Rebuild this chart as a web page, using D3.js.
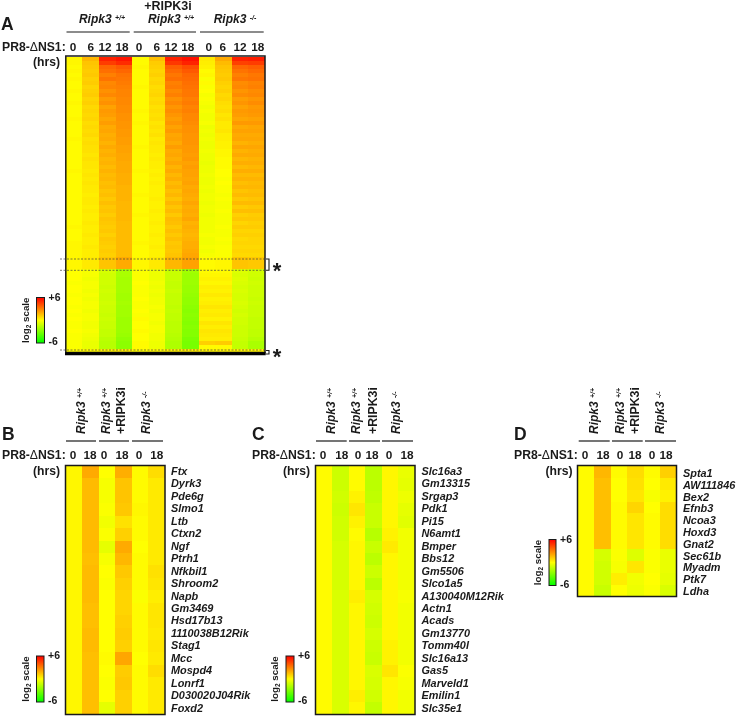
<!DOCTYPE html>
<html><head><meta charset="utf-8">
<script src="https://d3js.org/d3.v7.min.js"></script>
<style>html,body{margin:0;padding:0;background:#fff}svg{display:block;filter:blur(.45px)}
text{font-family:"Liberation Sans",Arial,sans-serif;font-weight:bold;fill:#1a1a1a}</style></head><body>
<svg id="c" width="737" height="716"></svg>
<script>
const groupLabels=["Ripk3","Ripk3","Ripk3"];
const groupSups=["+/+","+/+","-/-"];
const hoursA=["0","6","12","18","0","6","12","18","0","6","12","18"];
const hoursB=["0","18","0","18","0","18"];
const legendTicks=[-6,6];
const genesB=["Ftx","Dyrk3","Pde6g","Slmo1","Ltb","Ctxn2","Ngf","Ptrh1","Nfkbil1","Shroom2","Napb","Gm3469","Hsd17b13","1110038B12Rik","Stag1","Mcc","Mospd4","Lonrf1","D030020J04Rik","Foxd2"];
const genesC=["Slc16a3","Gm13315","Srgap3","Pdk1","Pi15","N6amt1","Bmper","Bbs12","Gm5506","Slco1a5","A130040M12Rik","Actn1","Acads","Gm13770","Tomm40l","Slc16a13","Gas5","Marveld1","Emilin1","Slc35e1"];
const genesD=["Spta1","AW111846","Bex2","Efnb3","Ncoa3","Hoxd3","Gnat2","Sec61b","Myadm","Ptk7","Ldha"];

// Panel A: 74 binned rows per column, log2 values
const a01=[.2,.2,.1,.2,.1,.2,.1,.1,.2,.1, .1,.2,.1,.1,.1,.2,.1,.1,.1,.1, .2,.1,.1,.1,.1,.1,.1,.1,.2,.1, .1,.1,.1,.1,.1,.1,.1,.1,.1,.1, .1,.1,.2,.1,.1,.1,.2,.2,.2,.2, .2,.2,.2,
 .0,.0,.0,-.1,.0,.0,-.1,.0,.0,-.1, .0,-.1,.0,-.1,-.1,.0,-.1,-.1,-.1,-.1,.1];
const a02=[1.7,1.4,1.3,1.2,1.3,1.1,1.2,1.0,1.1,1.2, 1.0,1.1,.9,1.0,.9,1.0,.8,.9,.8,.9, .7,.8,.7,.7,.6,.7,.6,.6,.5,.6, .5,.6,.5,.5,.4,.5,.5,.4,.5,.4, .4,.5,.4,.4,.5,.4,.4,.5,.4,.4, .5,.5,.5,
 -.2,-.2,-.3,-.2,-.2,-.3,-.2,-.3,-.2,-.2, -.3,-.2,-.2,-.3,-.3,-.2,-.3,-.4,-.5,-.5,.2];
const a03=[5.2,4.6,3.6,3.4,3.0,3.3,2.8,2.9,2.6,2.8, 2.4,2.6,2.2,2.4,2.3,2.1,2.3,2.0,2.1,1.9, 2.0,1.8,2.0,1.8,1.9,1.7,1.8,1.6,1.8,1.6, 1.7,1.5,1.6,1.4,1.5,1.3,1.5,1.3,1.4,1.2, 1.4,1.3,1.2,1.3,1.1,1.3,1.2,1.1,1.2,1.1, 1.4,1.4,1.4,
 -1.0,-1.1,-1.1,-1.1,-1.2,-1.1,-1.2,-1.2,-1.1,-1.2, -1.2,-1.3,-1.2,-1.3,-1.3,-1.4,-1.4,-1.6,-1.7,-1.7,.4];
const a04=[5.5,5.0,3.9,3.6,3.3,3.2,3.1,3.0,2.9,2.9, 2.8,2.8,2.7,2.7,2.6,2.6,2.5,2.5,2.4,2.4, 2.3,2.3,2.2,2.2,2.1,2.1,2.0,2.0,2.0,1.9, 1.9,1.9,1.8,1.8,1.8,1.8,1.7,1.7,1.7,1.7, 1.7,1.6,1.6,1.6,1.6,1.6,1.6,1.6,1.6,1.6, 2.0,2.0,2.0,
 -2.0,-2.0,-2.1,-2.1,-2.1,-2.1,-2.2,-2.2,-2.1,-2.2, -2.2,-2.2,-2.3,-2.3,-2.3,-2.3,-2.4,-2.6,-2.7,-2.7,.5];
const a05=[.1,.1,.2,.1,.1,.1,.1,.2,.1,.1, .1,.1,.1,.2,.1,.1,.2,.1,.1,.1, .1,.1,.2,.1,.1,.1,.1,.1,.2,.1, .1,.1,.1,.1,.2,.1,.1,.1,.1,.2, .1,.1,.1,.1,.1,.1,.2,.1,.1,.1, .2,.2,.2,
 -.1,-.1,-.1,.0,-.1,-.1,-.1,.0,-.1,-.1, .0,-.1,.1,.0,.0,.1,.0,.0,.1,.1,.1];
const a06=[1.5,1.2,1.1,1.0,1.1,.9,1.0,.8,.9,1.0, .8,.9,.7,.8,.7,.8,.6,.7,.6,.7, .5,.6,.5,.5,.4,.5,.4,.4,.3,.4, .3,.4,.3,.3,.3,.4,.3,.3,.4,.3, .3,.4,.3,.3,.4,.3,.3,.4,.3,.3, .5,.5,.5,
 -.4,-.4,-.4,-.3,-.4,-.3,-.4,-.3,-.3,-.2, -.3,-.2,-.2,-.3,-.2,-.2,-.3,-.3,-.4,-.4,.2];
const a07=[5.2,4.7,3.8,3.5,3.2,3.4,3.0,3.1,2.8,3.0, 2.6,2.8,2.5,2.7,2.5,2.3,2.5,2.2,2.4,2.1, 2.2,2.0,2.3,2.0,2.1,1.9,2.1,1.8,2.0,1.7, 1.9,1.6,1.8,1.5,1.7,1.4,1.7,1.4,1.6,1.3, 1.6,1.5,1.3,1.5,1.3,1.5,1.3,1.4,1.3,1.4, 1.7,1.7,1.7,
 -1.3,-1.3,-1.3,-1.4,-1.4,-1.3,-1.4,-1.4,-1.4,-1.5, -1.4,-1.5,-1.5,-1.6,-1.6,-1.6,-1.7,-1.8,-1.9,-1.9,.4];
const a08=[5.6,5.2,4.2,3.9,3.6,3.5,3.4,3.3,3.2,3.2, 3.0,3.1,2.9,3.0,2.8,2.8,2.7,2.6,2.6,2.5, 2.5,2.5,2.4,2.4,2.3,2.4,2.2,2.3,2.2,2.2, 2.1,2.2,2.0,2.1,2.0,1.9,2.1,1.9,2.0,1.9, 2.1,1.8,1.9,1.8,1.7,1.8,1.9,1.9,2.0,2.1, 2.2,2.2,2.2,
 -2.2,-2.3,-2.3,-2.3,-2.4,-2.4,-2.5,-2.6,-2.6,-2.7, -2.8,-2.7,-2.8,-2.9,-2.8,-2.9,-2.9,-3.1,-3.2,-3.2,.5];
const a09=[.5,.4,.3,.1,.2,-.1,.1,-.1,.0,-.2, -.1,-.2,-.3,-.2,-.3,-.3,-.2,-.4,-.3,-.4, -.3,-.4,-.4,-.3,-.4,-.4,-.5,-.4,-.4,-.3, -.4,-.4,-.3,-.4,-.3,-.3,-.4,-.3,-.3,-.4, -.3,-.3,-.3,-.3,-.2,-.3,-.3,-.2,-.3,-.2, .1,.1,.1,
 .1,.2,.3,.2,.4,.3,.5,.3,.4,.6, .4,.5,.3,.6,.4,.6,.5,.4,1.1,.1,.3];
const a10=[2.0,1.6,1.4,1.3,1.2,1.3,1.1,1.0,1.1,.9, 1.0,.8,.7,.8,.6,.7,.5,.5,.6,.4, .4,.3,.3,.2,.2,.1,.1,.1,.0,.0, -.1,.0,-.1,-.1,-.2,-.1,-.2,-.2,-.1,-.2, -.2,-.2,-.1,-.2,-.2,-.1,-.2,-.1,-.1,-.1, .2,.2,.2,
 .1,.2,.3,.2,.4,.3,.5,.3,.4,.6, .4,.5,.3,.6,.4,.6,.5,.4,1.2,.1,.3];
const a11=[5.2,4.5,3.6,3.3,3.0,3.2,2.7,2.8,2.5,2.7, 2.3,2.5,2.2,2.4,2.3,2.1,2.4,2.0,2.2,2.0, 2.1,1.8,2.1,1.8,2.0,1.7,1.9,1.6,1.9,1.6, 1.8,1.5,1.7,1.4,1.6,1.3,1.6,1.2,1.5,1.1, 1.3,1.0,1.2,1.0,1.1,.9,1.0,.9,1.0,.9, 1.4,1.4,1.4,
 -.8,-.9,-.8,-.9,-1.0,-.9,-1.0,-1.0,-.9,-1.0, -1.1,-1.0,-1.1,-1.1,-1.2,-1.2,-1.2,-1.3,-1.4,-1.4,.3];
const a12=[5.3,4.6,3.8,3.5,3.2,3.3,2.9,3.0,2.7,2.8, 2.5,2.7,2.4,2.5,2.4,2.2,2.4,2.1,2.2,2.0, 2.1,1.9,2.1,1.9,2.0,1.8,1.9,1.7,1.9,1.6, 1.8,1.6,1.7,1.5,1.6,1.4,1.6,1.3,1.5,1.2, 1.3,1.1,1.2,1.0,1.1,1.0,1.0,.9,1.0,.9, 1.3,1.3,1.3,
 -1.1,-1.1,-1.2,-1.1,-1.2,-1.2,-1.2,-1.3,-1.2,-1.3, -1.3,-1.3,-1.4,-1.4,-1.4,-1.5,-1.5,-1.7,-2.0,-2.0,.3];

// Panel B: one array per column, one value per gene
const b01=[.2,.2,.2,.2,.2,.2,.2,.2,.2,.2,.2,.2,.2,.2,.2,.2,.2,.2,.2,.2];
const b02=[2.0,1.6,1.6,1.6,1.6,1.6,1.6,1.5,1.6,1.6,1.6,1.5,1.5,1.6,1.6,1.5,1.5,1.5,1.5,1.5];
const b03=[.0,-.2,-.2,-.1,-.3,-.1,-.6,-.2,.0,-.1,.0,.0,.0,.0,.0,.1,.0,-.1,.0,-.6];
const b04=[1.9,1.4,1.4,1.3,.7,1.1,2.0,1.7,1.3,1.1,1.0,1.0,1.1,1.2,1.1,2.1,1.2,1.3,1.1,1.1];
const b05=[.1,.1,.1,.2,.1,.1,.0,.1,.1,.1,-.1,.1,.1,.1,.1,.0,.1,.1,.1,.1];
const b06=[.8,.5,.5,.5,.5,.5,.5,.5,.7,.6,.4,.6,.6,.5,.6,.5,.8,.5,.5,.5];
// Panel C
const c01=[.1,.1,.1,.1,.1,.1,.1,.1,.1,.1,.1,.1,.1,.1,.1,.1,.1,.1,.1,.1];
const c02=[-1.2,-1.2,-1.1,-1.2,-1.1,-1.1,-1.0,-1.0,-1.0,-1.0,-.9,-.9,-.9,-.9,-.9,-.9,-.9,-.9,-.9,-.9];
const c03=[.1,.1,.3,.6,.3,.1,.2,.2,.2,.2,.4,.2,.2,.2,.2,.2,.2,.2,.4,.2];
const c04=[-1.6,-1.6,-1.5,-1.3,-1.3,-1.7,-1.3,-1.6,-1.2,-1.6,-1.0,-1.1,-1.2,-1.0,-1.2,-1.3,-.9,-1.0,-1.1,-1.4];
const c05=[.2,.2,.2,.2,.2,.3,.5,.2,.2,.2,.2,.2,.2,.2,.3,.3,.6,.2,.2,.2];
const c06=[-.5,-.6,-.4,-.6,-.7,-.3,-.3,-.3,-.3,-.3,-.2,-.3,-.3,-.3,-.3,-.3,-.1,-.2,-.3,-.3];
// Panel D
const d01=[.1,.1,.1,.1,.1,.1,.1,.1,.1,.1,.1];
const d02=[1.7,1.5,1.5,1.5,1.5,1.5,1.5,-1.0,-1.1,-1.1,-1.3];
const d03=[.1,.0,.0,.1,.1,.1,.1,-.1,-.2,.4,.0];
const d04=[.8,.7,.6,1.0,.6,.6,.6,-.8,.6,-.3,-.4];
const d05=[.1,.0,-.2,.0,.1,.1,.1,-.1,-.1,.0,-.1];
const d06=[1.1,.5,.3,.8,.8,.8,.8,-.5,-.5,-.6,-.9];

const color=d3.scaleLinear().domain([-6,0,6]).range(["#00ff00","#ffff00","#ff0000"]);
const svg=d3.select("#c");
const ink="#1a1a1a";

function heat(cols,cfg){
  const x=d3.scaleBand().domain(d3.range(cols.length)).range([cfg.x0,cfg.x1]);
  const y=d3.scaleBand().domain(d3.range(cols[0].length)).range([cfg.y0,cfg.y1]);
  const g=svg.append("g");
  cols.forEach((col,i)=>{
    g.selectAll(null).data(col).join("rect")
      .attr("x",x(i)).attr("width",x.bandwidth()+.3)
      .attr("y",(d,r)=>y(r)).attr("height",y.bandwidth()+.3)
      .attr("fill",d=>color(d)).attr("shape-rendering","crispEdges");
  });
  g.append("rect").attr("x",cfg.x0).attr("y",cfg.y0-.5).attr("width",cfg.x1-cfg.x0).attr("height",cfg.y1-cfg.y0+.5)
    .attr("fill","none").attr("stroke",ink).attr("stroke-width",1.5);
  return {x,y};
}
function panelLabel(t,x,y,fs=17.5){svg.append("text").attr("x",x).attr("y",y).attr("font-size",fs).text(t);}
function pr8(x,y,hrsRight,hrsY){
  const t=svg.append("text").attr("x",x).attr("y",y).attr("font-size",12.2);
  t.append("tspan").text("PR8-");
  t.append("tspan").style("font-weight","normal").text("Δ");
  t.append("tspan").text("NS1:");
  svg.append("text").attr("x",hrsRight).attr("y",hrsY).attr("text-anchor","end").attr("font-size",12.2).text("(hrs)");
}
function hourTicks(labels,xs,y){
  svg.selectAll(null).data(labels).join("text").attr("x",(d,i)=>xs[i]).attr("y",y)
    .attr("text-anchor","middle").attr("font-size",11.8).text(d=>d);
}
function genes(list,x,y0,step){
  svg.selectAll(null).data(list).join("text").attr("x",x).attr("y",(d,i)=>y0+i*step)
    .attr("font-size",10.9).style("font-style","italic").text(d=>d);
}
function rule(x0,x1,y){svg.append("line").attr("x1",x0).attr("x2",x1).attr("y1",y).attr("y2",y).attr("stroke",ink).attr("stroke-width",1.2);}
function ripk(x,y,i,anchor="middle",rot=false){
  const t=svg.append("text").attr("font-size",12).style("font-style","italic");
  if(rot) t.attr("transform",`translate(${x},${y}) rotate(-90)`); else t.attr("x",x).attr("y",y).attr("text-anchor",anchor);
  t.append("tspan").text(groupLabels[i]+" ");
  t.append("tspan").attr("font-size",7).attr("dy",-3).text(groupSups[i]);
}
function rotText(x,y,s){svg.append("text").attr("transform",`translate(${x},${y}) rotate(-90)`).attr("font-size",12.3).text(s);}
let gid=0;
function legend(x0,x1,y0,y1){
  const id="lg"+(gid++);
  const lg=svg.append("defs").append("linearGradient").attr("id",id).attr("x1",0).attr("x2",0).attr("y1",1).attr("y2",0);
  const sy=d3.scaleLinear().domain(d3.extent(color.domain())).range([y1,y0]);
  lg.selectAll("stop").data(color.domain()).join("stop")
    .attr("offset",d=>(d+6)/12).attr("stop-color",d=>color(d));
  svg.append("rect").attr("x",x0).attr("width",x1-x0).attr("y",y0).attr("height",y1-y0).attr("fill",`url(#${id})`).attr("stroke",ink).attr("stroke-width",1);
  svg.selectAll(null).data(legendTicks).join("text").attr("x",x1+4).attr("y",d=>sy(d)+(d>0?3:2))
    .attr("font-size",10.5).text(d=>d>0?"+"+d:""+d);
  const t=svg.append("text").attr("transform",`translate(${x0-8},${(y0+y1)/2}) rotate(-90)`).attr("text-anchor","middle").attr("font-size",9.8);
  t.append("tspan").text("log");
  t.append("tspan").attr("font-size",6.5).attr("dy",2).text("2");
  t.append("tspan").attr("dy",-2).text(" scale");
}

// Panel A
heat([a01,a02,a03,a04,a05,a06,a07,a08,a09,a10,a11,a12],{x0:65.8,x1:265,y0:56.5,y1:352.5});
svg.append("line").attr("x1",65).attr("x2",265.7).attr("y1",353.7).attr("y2",353.7).attr("stroke","#000").attr("stroke-width",3);
panelLabel("A",1,30);
[[66.5,129.7],[133.7,196],[200,263.7]].forEach(d=>rule(d[0],d[1],32));
ripk(102,23,0);ripk(171,23,1);ripk(235,23,2);
svg.append("text").attr("x",168).attr("y",9.5).attr("text-anchor","middle").attr("font-size",12.5).text("+RIPK3i");
pr8(2,51,60,66);
hourTicks(hoursA,[73,90.7,105,122,139,156.7,171,187.7,208.7,222.7,240,257.7],51);
[259,270.3,350].forEach(y=>svg.append("line").attr("x1",60).attr("x2",265).attr("y1",y).attr("y2",y).attr("stroke","#444").attr("stroke-width",.7).attr("stroke-dasharray","2,1.5"));
[[259,270.3],[350.5,354]].forEach(d=>svg.append("path").attr("d",`M266,${d[0]}H269V${d[1]}H266`).attr("fill","none").attr("stroke",ink).attr("stroke-width",1.1));
[[277,277.5],[277,364]].forEach(p=>svg.append("text").attr("x",p[0]).attr("y",p[1]).attr("text-anchor","middle").attr("font-size",22).text("*"));
legend(36.5,44.5,297.5,343);

// Panel B
heat([b01,b02,b03,b04,b05,b06],{x0:65.5,x1:165,y0:466,y1:714.5});
panelLabel("B",2,440);
[[66,96],[99,129],[132,163]].forEach(d=>rule(d[0],d[1],441));
ripk(85,434,0,"start",true);ripk(109.5,434,1,"start",true);rotText(125,434,"+RIPK3i");ripk(150,434,2,"start",true);
pr8(2,459,60,475);
hourTicks(hoursB,[73,90,104,122,139,156.7],459);
genes(genesB,171,475,12.45);
legend(36.5,44,656,702);

// Panel C
heat([c01,c02,c03,c04,c05,c06],{x0:315.5,x1:415,y0:466,y1:714.5});
panelLabel("C",252,440);
[[316,346.7],[349,380],[382,413]].forEach(d=>rule(d[0],d[1],441));
ripk(335,434,0,"start",true);ripk(360,434,1,"start",true);rotText(376.5,434,"+RIPK3i");ripk(400,434,2,"start",true);
pr8(252,459,310,475);
hourTicks(hoursB,[323,341.7,358,372,389,407],459);
genes(genesC,421.5,475,12.45);
legend(286,294,656,702);

// Panel D
heat([d01,d02,d03,d04,d05,d06],{x0:577.5,x1:676.5,y0:466,y1:596.5});
panelLabel("D",514,440);
[[578.7,609.7],[612,642.7],[645,676]].forEach(d=>rule(d[0],d[1],441));
ripk(597.5,434,0,"start",true);ripk(623.5,434,1,"start",true);rotText(639,434,"+RIPK3i");ripk(664,434,2,"start",true);
pr8(514,459,572.5,475);
hourTicks(hoursB,[585,603,620,635,652,666],459);
genes(genesD,683,477,11.8);
legend(549,556,539.5,585.5);
</script></body></html>
